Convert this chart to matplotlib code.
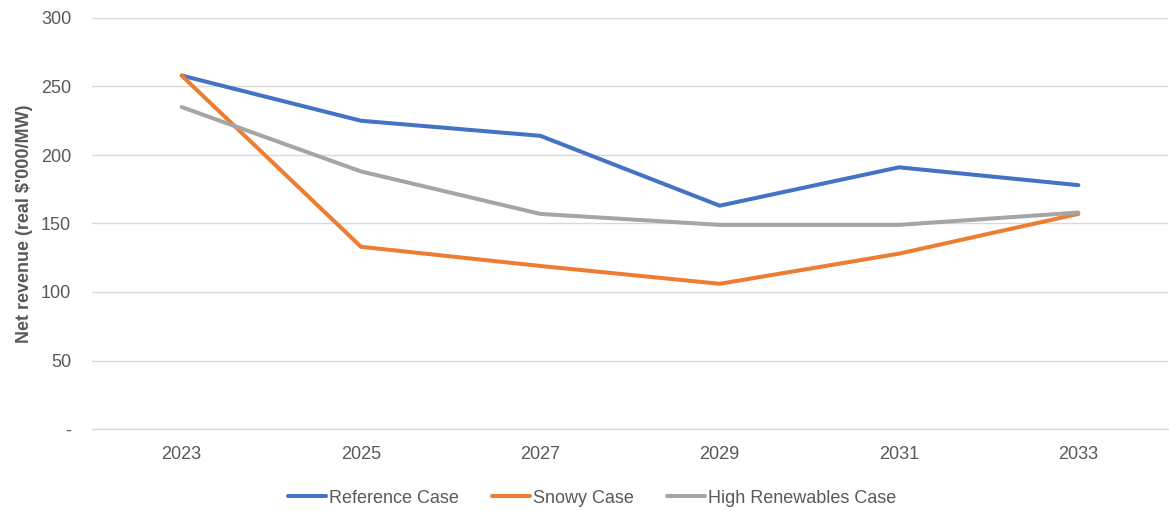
import matplotlib.pyplot as plt
from matplotlib.ticker import FixedLocator

plt.rcParams["font.family"] = ["Liberation Sans", "DejaVu Sans"]

years = ["2023", "2025", "2027", "2029", "2031", "2033"]
reference_case = [258, 225, 214, 163, 191, 178]
snowy_case = [258, 133, 119, 106, 128, 157]
high_renewables_case = [235, 188, 157, 149, 149, 158]

y_ticks = [0, 50, 100, 150, 200, 250, 300]
y_tick_labels = ["-", "50", "100", "150", "200", "250", "300"]

text_color = "#595959"
fs = 13

fig = plt.figure(figsize=(11.69, 5.11), dpi=100)
ax = fig.add_axes([92 / 1169, 1 - 429 / 511, 1076 / 1169, 411 / 511])

x = range(len(years))
ax.plot(x, reference_case, color="#4472C4", lw=2.9, solid_capstyle="round",
        solid_joinstyle="round", label="Reference Case")
ax.plot(x, snowy_case, color="#ED7D31", lw=2.9, solid_capstyle="round",
        solid_joinstyle="round", label="Snowy Case")
ax.plot(x, high_renewables_case, color="#A5A5A5", lw=2.9, solid_capstyle="round",
        solid_joinstyle="round", label="High Renewables Case")

ax.set_xlim(-0.5, len(years) - 0.5)
ax.set_ylim(0, 300)
ax.set_xticks(list(x))
ax.set_xticklabels(years)
ax.yaxis.set_major_locator(FixedLocator(y_ticks))
ax.set_yticklabels(y_tick_labels)

ax.grid(axis="y", color="#D9D9D9", lw=1.0)
ax.set_axisbelow(True)
for side in ["top", "right", "left"]:
    ax.spines[side].set_visible(False)
ax.spines["bottom"].set_color("#D9D9D9")
ax.spines["bottom"].set_linewidth(1.0)

ax.tick_params(axis="both", length=0, labelsize=fs, labelcolor=text_color)
ax.tick_params(axis="y", pad=15)
ax.tick_params(axis="x", pad=12)

ax.set_ylabel("Net revenue (real $'000/MW)", fontsize=fs, fontweight="bold",
              color=text_color, labelpad=5.5)

ax.legend(loc="center", bbox_to_anchor=(0.465, -0.168), ncol=3, frameon=False,
          fontsize=fs, labelcolor=text_color, handlelength=2.1, handletextpad=0.15,
          columnspacing=1.85)

plt.savefig("out.png")
